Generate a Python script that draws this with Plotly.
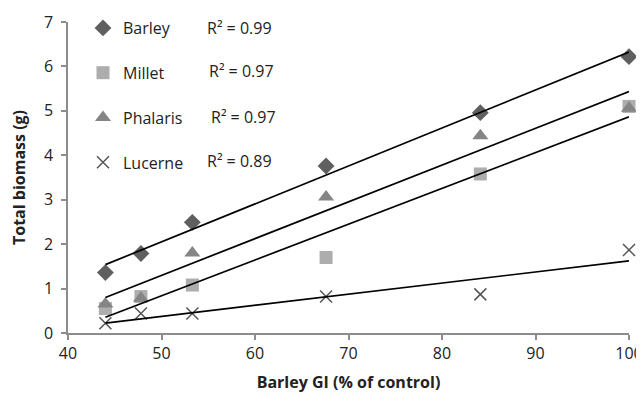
import numpy as np
import plotly.graph_objects as go

# Data
barley_gi = [44.0, 47.8, 53.3, 67.6, 84.1, 100.0]
barley = [1.36, 1.79, 2.49, 3.76, 4.96, 6.22]
millet = [0.55, 0.82, 1.08, 1.70, 3.58, 5.10]
phalaris = [0.65, 0.78, 1.80, 3.06, 4.44, 5.06]
lucerne = [0.22, 0.44, 0.44, 0.82, 0.87, 1.87]
series_names = ["Barley", "Millet", "Phalaris", "Lucerne"]
r2_labels = ["R² = 0.99", "R² = 0.97", "R² = 0.97", "R² = 0.89"]

series_values = [barley, millet, phalaris, lucerne]
symbols = ["diamond", "square", "triangle-up", "x-thin-open"]
colors = ["#5f5f5f", "#adadad", "#858585", "#555555"]
sizes = [13, 13, 14, 12]

FONT = "Open Sans"
TXT = "#222222"
fig = go.Figure()

for i, (name, vals) in enumerate(zip(series_names, series_values)):
    marker = dict(symbol=symbols[i], size=sizes[i], color=colors[i])
    if symbols[i] == "x-thin-open":
        marker["line"] = dict(color=colors[i], width=1.5)
    else:
        marker["line"] = dict(width=0)
    fig.add_trace(go.Scatter(
        x=barley_gi, y=vals, mode="markers", name=name,
        marker=marker, legendgroup=name, showlegend=True, cliponaxis=False,
    ))

# Linear trendlines (least squares) drawn over the markers
xs = np.array(barley_gi)
for i, (name, vals) in enumerate(zip(series_names, series_values)):
    slope, intercept = np.polyfit(xs, np.array(vals), 1)
    xr = [xs.min(), xs.max()]
    fig.add_trace(go.Scatter(
        x=xr, y=[slope * v + intercept for v in xr], mode="lines",
        line=dict(color="black", width=1.7), showlegend=False,
        hoverinfo="skip", cliponaxis=False,
    ))

# Page body has an 8px margin, so the figure is offset by 8px
OFF = 8
W, H = 644 - OFF, 395 - OFF
ml, mr, mt, mb = 68 - OFF, 15, 22 - OFF, 62
pw, ph = W - ml - mr, H - mt - mb


def px_x(sx):
    return (sx - OFF - ml) / pw


def px_y(sy):
    return 1 - (sy - OFF - mt) / ph


# R² labels beside legend entries (screen pixel positions)
r2_x = [205, 207, 209, 205]
legend_y = [28, 71, 117, 161]
for txt, sx, sy in zip(r2_labels, r2_x, legend_y):
    fig.add_annotation(
        x=px_x(sx), y=px_y(sy), xref="paper", yref="paper",
        text=txt, showarrow=False, xanchor="left", yanchor="middle",
        font=dict(family=FONT, size=16, color=TXT),
    )

axis_common = dict(
    showgrid=False, zeroline=False, showline=True, linecolor="#8c8c8c",
    linewidth=1.5, ticks="outside", ticklen=5, tickcolor="#8c8c8c",
    tickwidth=1.5, tickfont=dict(family=FONT, size=16, color=TXT),
    automargin=False,
)

fig.update_layout(
    width=W, height=H,
    margin=dict(l=ml, r=mr, t=mt, b=mb, autoexpand=False),
    paper_bgcolor="white", plot_bgcolor="white",
    showlegend=True,
    legend=dict(
        x=px_x(83), y=px_y(11), xanchor="left", yanchor="top",
        bgcolor="rgba(0,0,0,0)", tracegroupgap=21,
        font=dict(family=FONT, size=16, color=TXT),
    ),
    xaxis=dict(range=[40, 100], tickvals=[40, 50, 60, 70, 80, 90, 100],
               title=dict(text="<b>Barley GI (% of control)</b>", standoff=14,
                          font=dict(family=FONT, size=16, color=TXT)),
               **axis_common),
    yaxis=dict(range=[0, 7], tickvals=[0, 1, 2, 3, 4, 5, 6, 7],
               ticklabelstandoff=5,
               title=dict(text="<b>Total biomass (g)</b>", standoff=14,
                          font=dict(family=FONT, size=16, color=TXT)),
               **axis_common),
)

fig.write_html("out.html")
